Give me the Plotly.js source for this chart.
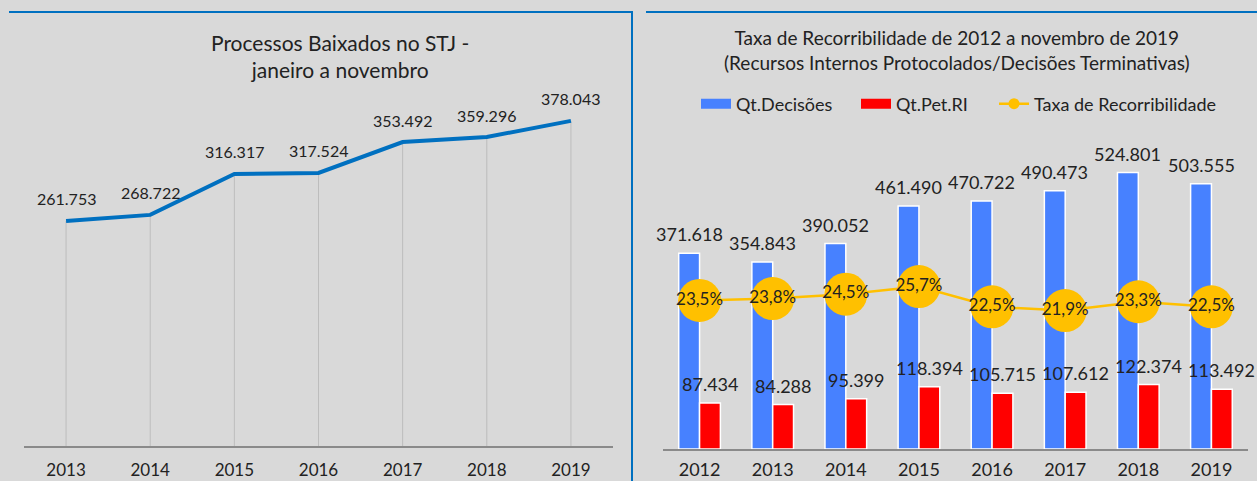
<!DOCTYPE html>
<html>
<head>
<meta charset="utf-8">
<script src="https://cdn.plot.ly/plotly-3.0.1.min.js"></script>
<style>
  html, body { margin: 0; padding: 0; background: #d9d9d9; }
  #chart { width: 1257px; height: 481px; }
</style>
</head>
<body>
<div id="chart"></div>
<script>
// ---- Left chart data ----
const leftYears = ['2013', '2014', '2015', '2016', '2017', '2018', '2019'];
const baixados = [261753, 268722, 316317, 317524, 353492, 359296, 378043];

// ---- Right chart data ----
const rightYears = ['2012', '2013', '2014', '2015', '2016', '2017', '2018', '2019'];
const decisoes = [371618, 354843, 390052, 461490, 470722, 490473, 524801, 503555];
const petRI = [87434, 84288, 95399, 118394, 105715, 107612, 122374, 113492];
const taxa = [23.5, 23.8, 24.5, 25.7, 22.5, 21.9, 23.3, 22.5];

const leftTitle = 'Processos Baixados no STJ -<br>janeiro a novembro';
const rightTitle = 'Taxa de Recorribilidade de 2012 a novembro de 2019<br>(Recursos Internos Protocolados/Decisões Terminativas)';

function fmtThousands(v) {
  return String(v).replace(/\B(?=(\d{3})+(?!\d))/g, '.');
}
function fmtPct(v) {
  return v.toFixed(1).replace('.', ',') + '%';
}

const W = 1257, H = 481;
const px = x => x / W;
const py = y => (H - y) / H;

const FONT = 'Lato, "Open Sans", sans-serif';
const TXT = '#222222';
const BLUE = '#4781ff';
const RED = '#ff0000';
const YEL = '#ffc000';

const traces = [
  // left line with drop lines
  {
    type: 'scatter', mode: 'lines',
    x: leftYears, y: baixados,
    xaxis: 'x', yaxis: 'y',
    line: { color: '#0070c0', width: 4 },
    error_y: { type: 'data', symmetric: false, array: baixados.map(() => 0), arrayminus: baixados, width: 0, thickness: 1, color: '#bdbdbd' },
    showlegend: false, hoverinfo: 'x+y', cliponaxis: false
  },
  // right bars
  {
    type: 'bar', name: 'Qt.Decisões',
    x: rightYears, y: decisoes,
    xaxis: 'x2', yaxis: 'y2',
    marker: { color: BLUE, line: { color: '#ffffff', width: 1.5 } },
    showlegend: false
  },
  {
    type: 'bar', name: 'Qt.Pet.RI',
    x: rightYears, y: petRI,
    xaxis: 'x2', yaxis: 'y2',
    marker: { color: RED, line: { color: '#ffffff', width: 1.5 } },
    showlegend: false
  },
  // rate line
  {
    type: 'scatter', mode: 'lines+markers+text', name: 'Taxa de Recorribilidade',
    x: rightYears, y: taxa,
    xaxis: 'x2', yaxis: 'y3',
    line: { color: YEL, width: 2.5 },
    marker: { color: YEL, size: 43 },
    text: taxa.map(fmtPct),
    textposition: 'middle center',
    textfont: { family: FONT, size: 17, color: TXT },
    cliponaxis: false,
    showlegend: false
  },
  // legend entries
  {
    type: 'scatter', mode: 'lines', name: 'Qt.Decisões',
    x: [null], y: [null], xaxis: 'x2', yaxis: 'y2', legend: 'legend',
    line: { color: BLUE, width: 11 }, hoverinfo: 'skip'
  },
  {
    type: 'scatter', mode: 'lines', name: 'Qt.Pet.RI',
    x: [null], y: [null], xaxis: 'x2', yaxis: 'y2', legend: 'legend2',
    line: { color: RED, width: 11 }, hoverinfo: 'skip'
  },
  {
    type: 'scatter', mode: 'lines+markers', name: 'Taxa de Recorribilidade',
    x: [null], y: [null], xaxis: 'x2', yaxis: 'y3', legend: 'legend3',
    line: { color: YEL, width: 2.5 }, marker: { color: YEL, size: 11 }, hoverinfo: 'skip'
  }
];

const annotations = [];
leftYears.forEach((yr, i) => {
  annotations.push({
    xref: 'x', yref: 'y', x: i, y: baixados[i], yshift: 22,
    text: fmtThousands(baixados[i]), showarrow: false,
    font: { family: FONT, size: 16, color: TXT }
  });
});
rightYears.forEach((yr, i) => {
  annotations.push({
    xref: 'x2', yref: 'y2', x: i, y: decisoes[i], xshift: -10.4, yshift: 19,
    text: fmtThousands(decisoes[i]), showarrow: false,
    font: { family: FONT, size: 18, color: TXT }
  });
  annotations.push({
    xref: 'x2', yref: 'y2', x: i, y: petRI[i], xshift: 10.4, yshift: 19,
    text: fmtThousands(petRI[i]), showarrow: false,
    font: { family: FONT, size: 18, color: TXT }
  });
});
annotations.push({
  xref: 'paper', yref: 'paper', x: px(340), y: py(56.5), xanchor: 'center', yanchor: 'middle',
  text: leftTitle, showarrow: false, font: { family: FONT, size: 21, color: TXT }
});
annotations.push({
  xref: 'paper', yref: 'paper', x: px(957), y: py(50), xanchor: 'center', yanchor: 'middle',
  text: rightTitle, showarrow: false, font: { family: FONT, size: 19, color: TXT }
});

const BORDER = { color: '#0070c0', width: 2 };
const shapes = [
  { type: 'line', xref: 'paper', yref: 'paper', x0: px(9), x1: px(633), y0: py(12), y1: py(12), line: BORDER },
  { type: 'line', xref: 'paper', yref: 'paper', x0: px(632), x1: px(632), y0: py(12), y1: 0, line: BORDER },
  { type: 'line', xref: 'paper', yref: 'paper', x0: px(646), x1: 1, y0: py(12), y1: py(12), line: BORDER }
];

function legendAt(xPix) {
  return {
    orientation: 'h', x: px(xPix), xanchor: 'left', y: py(104), yanchor: 'middle',
    bgcolor: 'rgba(0,0,0,0)', font: { family: FONT, size: 18, color: TXT },
    itemwidth: 30
  };
}

const layout = {
  width: W, height: H,
  margin: { l: 0, r: 0, t: 0, b: 0 },
  paper_bgcolor: '#d9d9d9', plot_bgcolor: 'rgba(0,0,0,0)',
  font: { family: FONT, color: TXT },
  showlegend: true,
  barmode: 'group', bargap: 0.43, bargroupgap: 0,
  xaxis: {
    domain: [px(24), px(613)], type: 'category', range: [-0.5, leftYears.length - 0.5],
    showline: true, linecolor: '#8a8a8a', linewidth: 1.5,
    showgrid: false, zeroline: false, ticks: '', ticklabelstandoff: 8,
    tickfont: { family: FONT, size: 17, color: TXT }, fixedrange: true
  },
  yaxis: {
    domain: [py(446), py(102)], range: [0, 400000], visible: false, fixedrange: true
  },
  xaxis2: {
    domain: [px(663), px(1248)], type: 'category', anchor: 'y2', range: [-0.5, rightYears.length - 0.5],
    showline: true, linecolor: '#8a8a8a', linewidth: 1.5,
    showgrid: false, zeroline: false, ticks: '', ticklabelstandoff: 4,
    tickfont: { family: FONT, size: 18, color: TXT }, fixedrange: true
  },
  yaxis2: {
    domain: [py(449), py(133)], range: [0, 600000], visible: false, anchor: 'x2', fixedrange: true
  },
  yaxis3: {
    overlaying: 'y2', range: [0, 50], visible: false, anchor: 'x2', fixedrange: true
  },
  legend: legendAt(696),
  legend2: legendAt(856),
  legend3: legendAt(994),
  annotations: annotations,
  shapes: shapes
};

Plotly.newPlot('chart', traces, layout, { displayModeBar: false, staticPlot: true });
</script>
</body>
</html>
